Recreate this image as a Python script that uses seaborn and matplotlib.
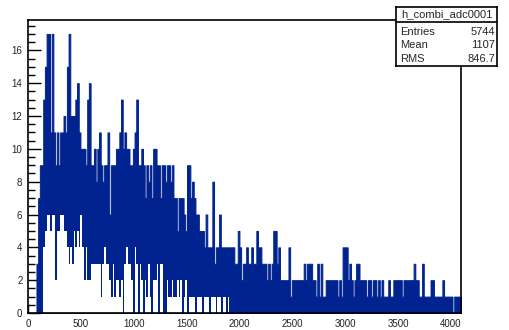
import numpy as np
import pandas as pd
import matplotlib
matplotlib.use("Agg")
from matplotlib import pyplot as plt
from matplotlib.ticker import MultipleLocator
import seaborn as sns

# ADC histogram, bins of 16 channels (0..4096)
bin_width = 16
n_max = 4096

# highest count seen in each bin
upper = [0, 0, 0, 0, 0, 3, 7, 9, 9, 13,
         15, 17, 17, 11, 17, 11, 9, 11, 9, 11,
         11, 12, 11, 15, 17, 12, 12, 12, 13, 14,
         11, 10, 10, 10, 9, 13, 14, 9, 9, 10,
         8, 10, 11, 9, 8, 9, 9, 11, 6, 9,
         9, 9, 10, 10, 11, 13, 10, 11, 10, 10,
         9, 9, 10, 11, 13, 9, 9, 10, 9, 7,
         9, 8, 9, 7, 10, 10, 9, 9, 7, 9,
         9, 8, 9, 9, 8, 9, 7, 7, 5, 7,
         7, 7, 6, 5, 9, 9, 7, 8, 7, 6,
         6, 5, 5, 5, 4, 6, 4, 4, 4, 8,
         3, 4, 4, 6, 4, 4, 4, 4, 4, 4,
         4, 4, 3, 3, 5, 4, 2, 3, 3, 4,
         3, 3, 4, 3, 3, 5, 4, 4, 3, 3,
         3, 2, 3, 2, 3, 5, 5, 3, 4, 2,
         2, 2, 2, 2, 4, 1, 2, 2, 2, 2,
         2, 2, 2, 3, 2, 3, 3, 3, 2, 2,
         1, 3, 1, 3, 1, 1, 2, 2, 2, 2,
         2, 2, 2, 1, 2, 1, 4, 4, 4, 2,
         3, 2, 1, 2, 3, 3, 2, 2, 2, 2,
         1, 2, 2, 1, 2, 2, 1, 2, 1, 2,
         1, 1, 1, 2, 1, 1, 2, 2, 2, 2,
         2, 1, 2, 2, 2, 2, 2, 2, 3, 2,
         2, 1, 1, 3, 1, 1, 1, 1, 2, 2,
         1, 1, 1, 1, 1, 2, 1, 1, 1, 1,
         1, 0, 1, 1, 1, 1]

# lowest count seen in each bin (only the first part is non zero)
lower = [0, 0, 0, 0, 0, 0, 0, 0, 0, 4,
         5, 6, 6, 5, 6, 6, 2, 5, 5, 6,
         6, 5, 5, 4, 3, 4, 3, 5, 4, 5,
         4, 6, 4, 2, 4, 2, 2, 3, 3, 3,
         3, 3, 3, 1, 3, 4, 3, 3, 2, 1,
         3, 1, 2, 2, 1, 2, 0, 3, 4, 3,
         3, 2, 0, 4, 3, 0, 3, 2, 0, 2,
         1, 3, 1, 0, 2, 2, 3, 0, 3, 3,
         0, 0, 2, 1, 1, 2, 1, 1, 2, 1,
         2, 0, 1, 2, 0, 1, 1, 1, 1, 0,
         1, 1, 1, 0, 1, 1, 1, 0, 1, 1,
         1, 0, 1, 1, 0, 1, 1, 0, 1, 0]

stats_name = "h_combi_adc0001"
stats_rows = [("Entries", "5744"), ("Mean", "1107"), ("RMS", "846.7")]

sns.set_style("ticks")
plt.rcParams['font.family'] = ['Liberation Sans', 'DejaVu Sans']

centers = np.arange(len(upper)) * bin_width + bin_width / 2
df_hi = pd.DataFrame({'adc': centers, 'n': upper})
df_lo = pd.DataFrame({'adc': centers[:len(lower)], 'n': lower})

blue = '#00238f'

fig = plt.figure(figsize=(5.1, 3.3), dpi=100)
ax = fig.add_axes([0.0549, 0.0515, 0.849, 0.888])

sns.histplot(data=df_hi, x='adc', weights='n', binwidth=bin_width, binrange=(0, n_max),
             element='step', fill=True, color=blue, alpha=1, linewidth=0.7, ax=ax)
sns.histplot(data=df_lo, x='adc', weights='n', binwidth=bin_width,
             binrange=(0, len(lower) * bin_width),
             element='step', fill=True, color='white', alpha=1, linewidth=0, ax=ax)

ax.set_xlim(0, n_max)
ax.set_ylim(0, 17.85)
ax.set_xlabel('')
ax.set_ylabel('')
ax.set_xticks(range(0, 4001, 500))
ax.xaxis.set_minor_locator(MultipleLocator(100))
ax.set_yticks(range(0, 17, 2))
ax.yaxis.set_minor_locator(MultipleLocator(0.5))
ax.tick_params(which='both', direction='in', colors='black', labelcolor='#222222',
               labelsize=7, width=1)
ax.tick_params(axis='x', which='major', length=6.3, pad=4)
ax.tick_params(axis='x', which='minor', length=3.2)
ax.tick_params(axis='y', which='major', length=9.4, pad=4)
ax.tick_params(axis='y', which='minor', length=5)
for s in ax.spines.values():
    s.set_visible(True)
    s.set_linewidth(1.2)
    s.set_color('black')

# stats box
axs = fig.add_axes([0.7765, 0.801, 0.198, 0.178])
axs.set_xticks([])
axs.set_yticks([])
axs.set_xlim(0, 1)
axs.set_ylim(0, 1)
for s in axs.spines.values():
    s.set_linewidth(1.2)
    s.set_color('black')
axs.axhline(0.745, color='black', lw=1.2)
axs.text(0.5, 0.87, stats_name, ha='center', va='center', fontsize=8)
for (name, val), yy in zip(stats_rows, [0.58, 0.35, 0.12]):
    axs.text(0.04, yy, name, ha='left', va='center', fontsize=8)
    axs.text(0.98, yy, val, ha='right', va='center', fontsize=8)

fig.savefig('out.png', dpi=100)
